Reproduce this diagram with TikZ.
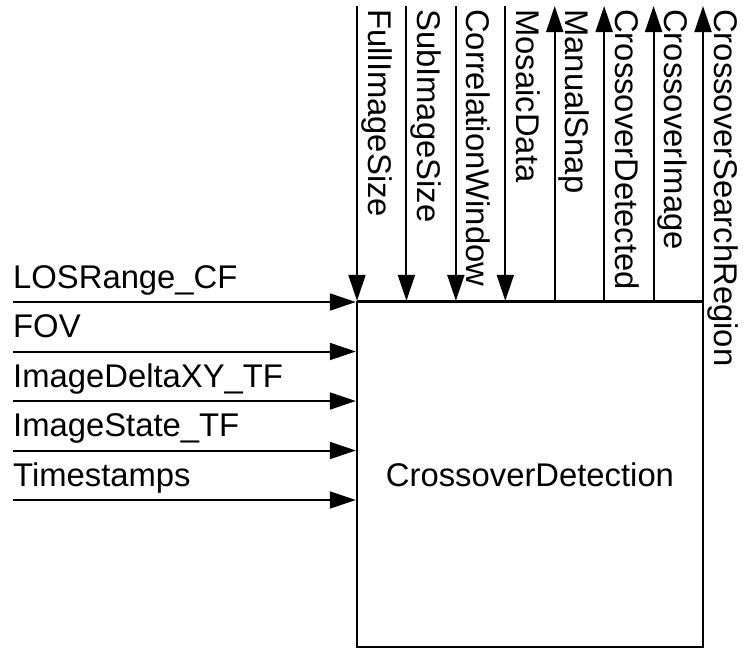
\documentclass[tikz,border=0pt]{standalone}
\usepackage{fontspec}
\setmainfont{Liberation Sans}
\usetikzlibrary{arrows.meta}
\begin{document}
\begin{tikzpicture}[x=1pt,y=-1pt,
  wire/.style={line width=2pt},
  arr/.style={wire,-{Triangle[length=26pt,width=17pt]}},
  blockbox/.style={draw,line width=2.4pt,minimum width=346pt,minimum height=345pt,inner sep=0pt,
    font=\fontsize{32.8}{38}\selectfont},
  lbl/.style={inner sep=0pt,anchor=base west,font=\fontsize{32.8}{38}\selectfont},
  vlbl/.style={lbl,rotate=-90}]
\useasboundingbox (0,0) rectangle (743,649);

% the function block
\node[blockbox] (b) at (530,474.5) {CrossoverDetection};

% inputs on the left side
\foreach \name/\txt [count=\i from 0] in {los/LOSRange\_CF,fov/FOV,dxy/ImageDeltaXY\_TF,st/ImageState\_TF,ts/Timestamps}{
  \coordinate (\name) at (13,{302+49.5*\i});
  \node[lbl] (\name-t) at ([yshift=14pt]\name) {\txt};
  \draw[arr] (\name) -- (\name -| b.west);
}

% parameters entering from above
\foreach \name/\txt [count=\i from 0] in {fis/FullImageSize,sis/SubImageSize,cw/CorrelationWindow,md/MosaicData}{
  \coordinate (\name) at ({357+49.43*\i},6);
  \node[vlbl] (\name-t) at ([xshift=11pt,yshift=-3pt]\name) {\txt};
  \draw[arr] (\name) -- (\name |- b.north);
}

% outputs leaving upwards
\foreach \name/\txt [count=\i from 4] in {ms/ManualSnap,cd/CrossoverDetected,ci/CrossoverImage,csr/CrossoverSearchRegion}{
  \coordinate (\name) at ({357+49.43*\i},6);
  \node[vlbl] (\name-t) at ([xshift=11pt,yshift=-3pt]\name) {\txt};
  \draw[arr] (\name |- b.north) -- (\name);
}

% top edge extension between the parameter lines
\draw[wire] (fis |- b.north) -- (csr |- b.north);
\end{tikzpicture}
\end{document}
